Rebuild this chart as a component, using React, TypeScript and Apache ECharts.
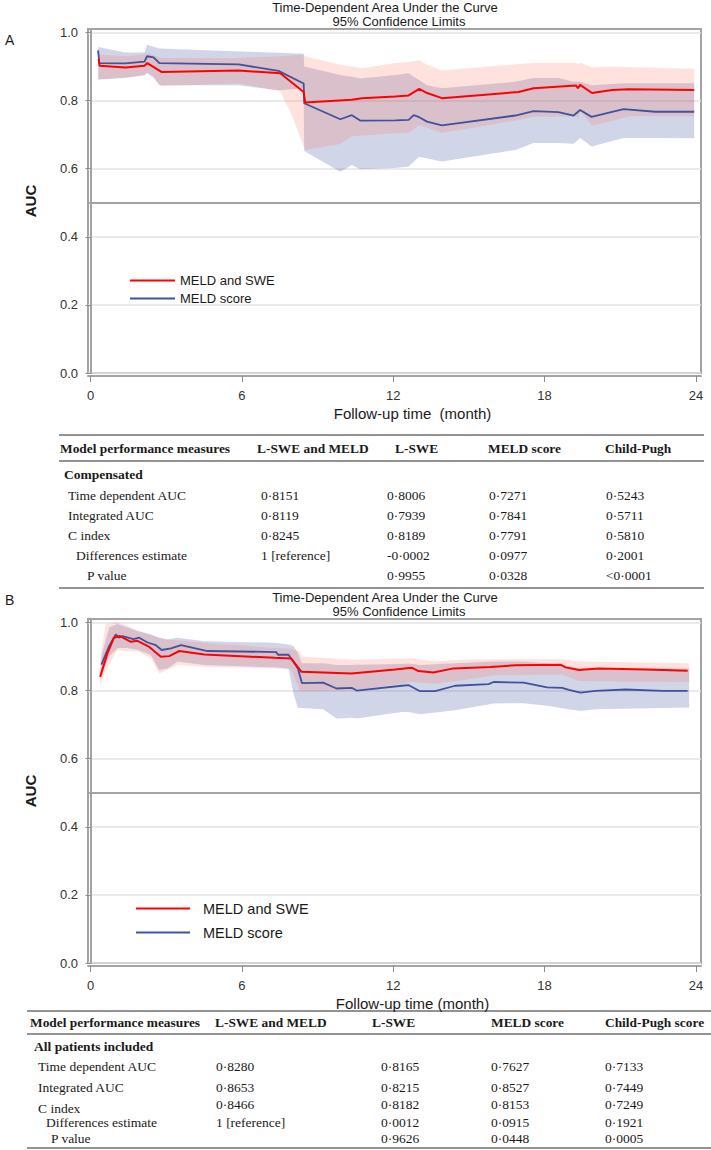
import React, { useEffect, useRef } from 'react';
import * as echarts from 'echarts';

// ---------------- Panel A (Compensated) ----------------
const aRedT = [0.32, 0.36, 1.38, 2.14, 2.25, 2.81, 5.87, 7.52, 8.45, 8.51, 10.36, 10.76, 12.08, 12.61, 13.03, 13.34, 13.93, 16.97, 17.56, 19.25, 19.32, 19.41, 19.88, 20.67, 21.33, 23.93];
const aRedAuc = [0.922, 0.902, 0.897, 0.902, 0.910, 0.884, 0.888, 0.880, 0.825, 0.794, 0.802, 0.807, 0.812, 0.815, 0.834, 0.822, 0.807, 0.825, 0.836, 0.844, 0.836, 0.846, 0.822, 0.831, 0.833, 0.831];

const aBlueT = [0.30, 0.35, 1.38, 2.14, 2.24, 2.50, 2.73, 5.87, 7.45, 8.45, 8.47, 9.90, 10.36, 10.69, 12.08, 12.61, 12.81, 13.03, 13.34, 13.93, 16.84, 17.56, 18.55, 19.15, 19.41, 19.86, 21.13, 22.39, 23.93];
const aBlueAuc = [0.947, 0.910, 0.909, 0.914, 0.930, 0.927, 0.910, 0.906, 0.887, 0.850, 0.792, 0.745, 0.757, 0.741, 0.742, 0.743, 0.757, 0.751, 0.738, 0.727, 0.756, 0.769, 0.766, 0.756, 0.772, 0.752, 0.775, 0.767, 0.767];

const aRedBandT = [0.32, 1.38, 2.14, 2.25, 2.81, 5.87, 7.52, 8.0, 8.45, 8.51, 9.9, 10.36, 10.76, 12.08, 12.61, 13.03, 13.34, 13.93, 16.97, 17.56, 19.25, 19.32, 19.41, 19.88, 20.67, 21.33, 23.93];
const aRedLo = [0.862, 0.868, 0.873, 0.882, 0.842, 0.851, 0.827, 0.753, 0.665, 0.655, 0.672, 0.695, 0.697, 0.704, 0.705, 0.728, 0.72, 0.705, 0.743, 0.753, 0.753, 0.745, 0.77, 0.727, 0.74, 0.754, 0.754];
const aRedHi = [0.935, 0.93, 0.935, 0.94, 0.925, 0.925, 0.93, 0.932, 0.935, 0.93, 0.905, 0.90, 0.895, 0.91, 0.913, 0.918, 0.905, 0.888, 0.907, 0.91, 0.91, 0.905, 0.912, 0.897, 0.90, 0.898, 0.893];

const aBlueBandT = [0.30, 1.38, 2.14, 2.24, 2.50, 2.73, 5.87, 7.45, 8.45, 8.47, 9.90, 10.36, 10.69, 12.08, 12.61, 12.81, 13.03, 13.34, 13.93, 16.84, 17.56, 18.55, 19.15, 19.41, 19.86, 21.13, 22.39, 23.93];
const aBlueLo = [0.862, 0.866, 0.875, 0.88, 0.87, 0.845, 0.845, 0.83, 0.835, 0.652, 0.591, 0.611, 0.598, 0.602, 0.606, 0.62, 0.635, 0.63, 0.621, 0.655, 0.675, 0.675, 0.673, 0.69, 0.665, 0.69, 0.69, 0.689];
const aBlueHi = [0.957, 0.941, 0.941, 0.964, 0.958, 0.953, 0.944, 0.94, 0.937, 0.90, 0.875, 0.87, 0.865, 0.875, 0.88, 0.87, 0.86, 0.845, 0.836, 0.855, 0.866, 0.866, 0.855, 0.855, 0.845, 0.851, 0.851, 0.851];

// ---------------- Panel B (All patients) ----------------
const bRedT = [0.38, 0.67, 0.93, 1.07, 1.17, 1.60, 1.86, 2.33, 2.79, 3.12, 3.52, 4.51, 7.30, 7.96, 8.36, 10.35, 12.07, 12.73, 13.00, 13.59, 14.39, 15.84, 16.84, 18.63, 18.83, 19.36, 20.15, 22.00, 23.67];
const bRedAuc = [0.840, 0.909, 0.955, 0.958, 0.960, 0.943, 0.946, 0.928, 0.899, 0.901, 0.916, 0.906, 0.896, 0.894, 0.855, 0.850, 0.862, 0.867, 0.857, 0.853, 0.865, 0.869, 0.874, 0.876, 0.868, 0.860, 0.865, 0.862, 0.858];

const bBlueT = [0.43, 0.74, 1.00, 1.13, 1.27, 1.70, 1.93, 2.26, 2.59, 2.82, 3.19, 3.59, 4.64, 7.36, 7.43, 7.85, 8.22, 8.38, 9.22, 9.75, 10.35, 10.55, 12.34, 12.60, 13.06, 13.66, 14.45, 15.78, 15.98, 17.17, 18.10, 18.70, 18.96, 19.42, 20.02, 21.21, 22.67, 23.67];
const bBlueAuc = [0.876, 0.931, 0.965, 0.955, 0.960, 0.951, 0.955, 0.941, 0.933, 0.919, 0.924, 0.933, 0.916, 0.913, 0.905, 0.905, 0.865, 0.822, 0.823, 0.806, 0.808, 0.800, 0.814, 0.816, 0.798, 0.798, 0.814, 0.819, 0.825, 0.823, 0.809, 0.808, 0.802, 0.794, 0.799, 0.803, 0.799, 0.799];

const bRedBandT = [0.38, 0.60, 1.07, 1.46, 1.86, 2.39, 2.72, 3.05, 3.45, 4.51, 7.30, 7.96, 8.29, 8.38, 10.35, 12.47, 12.73, 13.66, 14.72, 16.04, 18.70, 19.36, 21.34, 23.73];
const bRedLo = [0.813, 0.86, 0.918, 0.915, 0.915, 0.895, 0.85, 0.86, 0.875, 0.87, 0.865, 0.862, 0.80, 0.797, 0.80, 0.822, 0.825, 0.82, 0.83, 0.845, 0.847, 0.828, 0.826, 0.825];
const bRedHi = [0.885, 0.995, 1.0, 0.99, 0.976, 0.962, 0.955, 0.95, 0.947, 0.94, 0.925, 0.922, 0.915, 0.90, 0.89, 0.894, 0.895, 0.885, 0.89, 0.892, 0.892, 0.885, 0.883, 0.88];

const bBlueBandT = [0.43, 0.74, 1.07, 1.46, 1.86, 2.39, 2.72, 3.05, 3.45, 4.51, 7.30, 7.85, 8.05, 8.22, 8.38, 9.22, 9.75, 10.35, 10.55, 12.34, 12.60, 13.06, 14.45, 15.98, 17.17, 18.10, 18.96, 19.42, 20.02, 23.73];
const bBlueLo = [0.84, 0.90, 0.925, 0.925, 0.92, 0.905, 0.86, 0.865, 0.885, 0.875, 0.868, 0.865, 0.79, 0.749, 0.749, 0.745, 0.718, 0.72, 0.718, 0.737, 0.737, 0.73, 0.742, 0.762, 0.763, 0.755, 0.745, 0.74, 0.745, 0.75];
const bBlueHi = [0.90, 0.985, 0.995, 0.985, 0.975, 0.965, 0.955, 0.95, 0.955, 0.945, 0.94, 0.935, 0.93, 0.91, 0.88, 0.88, 0.875, 0.875, 0.876, 0.878, 0.879, 0.875, 0.88, 0.885, 0.885, 0.88, 0.872, 0.865, 0.865, 0.865];

// ---------------- Axes / labels ----------------
const X_TICKS = [0, 6, 12, 18, 24];
const Y_TICKS = [0, 0.2, 0.4, 0.6, 0.8, 1.0];
const SERIES_NAMES = ['MELD and SWE', 'MELD score'];
const PLOT_TITLE = ['Time-Dependent Area Under the Curve', '95% Confidence Limits'];
const X_NAMES = ['Follow-up time  (month)', 'Follow-up time (month)'];
const PANEL_LABELS = ['A', 'B'];

// ---------------- Tables ----------------
const tableAHeader = ['Model performance measures', 'L-SWE and MELD', 'L-SWE', 'MELD score', 'Child-Pugh'];
const tableAGroup = 'Compensated';
const tableARows = [
  ['Time dependent AUC', '0·8151', '0·8006', '0·7271', '0·5243'],
  ['Integrated AUC', '0·8119', '0·7939', '0·7841', '0·5711'],
  ['C index', '0·8245', '0·8189', '0·7791', '0·5810'],
  ['Differences estimate', '1 [reference]', '-0·0002', '0·0977', '0·2001'],
  ['P value', '', '0·9955', '0·0328', '<0·0001'],
];
const tableBHeader = ['Model performance measures', 'L-SWE and MELD', 'L-SWE', 'MELD score', 'Child-Pugh score'];
const tableBGroup = 'All patients included';
const tableBRows = [
  ['Time dependent AUC', '0·8280', '0·8165', '0·7627', '0·7133'],
  ['Integrated AUC', '0·8653', '0·8215', '0·8527', '0·7449'],
  ['C index', '0·8466', '0·8182', '0·8153', '0·7249'],
  ['Differences estimate', '1 [reference]', '0·0012', '0·0915', '0·1921'],
  ['P value', '', '0·9626', '0·0448', '0·0005'],
];

const SANS = "'Liberation Sans', Arial, sans-serif";
const SERIF = "'Liberation Serif', 'Times New Roman', serif";
const RED = '#ff0000';
const BLUE = '#41529c';

const pairs = (t: number[], v: number[]) => t.map((x, i) => [x, v[i]]);
const band = (t: number[], lo: number[], hi: number[]) => t.map((x, i) => [x, lo[i], hi[i]]);

function bandSeries(data: number[][], fill: string, idx: number) {
  return {
    type: 'custom',
    xAxisIndex: idx,
    yAxisIndex: idx,
    silent: true,
    z: 1,
    data,
    encode: { x: 0, y: [1, 2] },
    renderItem: (params: any, api: any) => {
      if (params.dataIndex !== 0) return null;
      const up = data.map((d) => api.coord([d[0], d[2]]));
      const lo = data.map((d) => api.coord([d[0], d[1]])).reverse();
      return { type: 'polygon', shape: { points: up.concat(lo) }, style: { fill } };
    },
  };
}

function lineSeries(name: string, data: number[][], color: string, width: number, idx: number, ref: boolean) {
  const s: any = {
    type: 'line',
    name,
    data,
    xAxisIndex: idx,
    yAxisIndex: idx,
    symbol: 'none',
    showSymbol: false,
    z: 3,
    lineStyle: { color, width },
    itemStyle: { color },
  };
  if (ref) {
    s.markLine = {
      silent: true,
      symbol: ['none', 'none'],
      label: { show: false },
      lineStyle: { color: '#a3a3a3', width: 2, type: 'solid' },
      data: [{ yAxis: 0.5 }],
    };
  }
  return s;
}

function txt(text: string, x: number, y: number, font: string, align = 'left', fill = '#1a1a1a') {
  return {
    type: 'text',
    x,
    y,
    silent: true,
    style: { text, font, fill, align, textAlign: align, verticalAlign: 'middle', textVerticalAlign: 'middle' },
  };
}

function rule(x1: number, x2: number, y: number) {
  return { type: 'line', silent: true, shape: { x1, y1: y, x2, y2: y }, style: { stroke: '#6e6e6e', lineWidth: 1.6 } };
}

function buildTable(
  header: string[], group: string, rows: string[][],
  L: { hx: number[]; vx: number[]; rx: number[]; rule: [number, number]; ys: number[]; rows: number[]; cIndexDy: number }
) {
  const els: any[] = [];
  const [top, hy, hr, gy, bottom] = L.ys;
  els.push(rule(L.rule[0], L.rule[1], top));
  els.push(rule(L.rule[0], L.rule[1], hr));
  els.push(rule(L.rule[0], L.rule[1], bottom));
  header.forEach((h, i) => els.push(txt(h, L.hx[i], hy, `bold 13.4px ${SERIF}`)));
  els.push(txt(group, L.rx[0] - 4, gy, `bold 13.5px ${SERIF}`));
  rows.forEach((r, ri) => {
    const y = L.rows[ri];
    els.push(txt(r[0], L.rx[ri], y + (ri === 2 ? L.cIndexDy : 0), `13.5px ${SERIF}`));
    for (let c = 1; c < r.length; c++) {
      if (r[c]) els.push(txt(r[c], L.vx[c - 1], y, `13.5px ${SERIF}`));
    }
  });
  return els;
}

function buildOption() {
  const grids = [
    { left: 88, top: 29, width: 613, height: 344 },
    { left: 88, top: 619, width: 613, height: 344 },
  ];

  const graphics: any[] = [];
  graphics.push(txt(PANEL_LABELS[0], 5, 40, `14px ${SANS}`));
  graphics.push(txt(PLOT_TITLE[0], 385, 7, `13px ${SANS}`, 'center'));
  graphics.push(txt(PLOT_TITLE[1], 399, 21, `13px ${SANS}`, 'center'));
  graphics.push(txt(PANEL_LABELS[1], 5, 600, `14px ${SANS}`));
  graphics.push(txt(PLOT_TITLE[0], 385, 597, `13px ${SANS}`, 'center'));
  graphics.push(txt(PLOT_TITLE[1], 399, 611, `13px ${SANS}`, 'center'));

  graphics.push(
    ...buildTable(tableAHeader, tableAGroup, tableARows, {
      hx: [60, 257, 395, 488, 605],
      vx: [261, 387, 489, 606],
      rx: [68, 68, 68, 76, 87],
      rule: [59, 704],
      ys: [435, 448, 461, 474, 588],
      rows: [495, 515, 535, 555, 575],
      cIndexDy: 0,
    })
  );
  graphics.push(
    ...buildTable(tableBHeader, tableBGroup, tableBRows, {
      hx: [30, 215, 372, 491, 605],
      vx: [216, 381, 491, 605],
      rx: [38, 38, 38, 46, 51],
      rule: [27, 711],
      ys: [1011, 1022, 1034, 1046, 1148],
      rows: [1066, 1087, 1104, 1122, 1138],
      cIndexDy: 4,
    })
  );

  const xAxes = [0, 1].map((i) => ({
    gridIndex: i,
    type: 'value',
    min: -0.1,
    max: 24.2,
    offset: 3,
    axisLine: { show: true, onZero: false, lineStyle: { color: '#a3a3a3', width: 2 } },
    axisTick: { show: true, length: 6, customValues: X_TICKS, lineStyle: { color: '#8a8a8a', width: 1 } },
    axisLabel: { customValues: X_TICKS, margin: 13, fontSize: 13, color: '#333', fontFamily: SANS },
    splitLine: { show: false },
    name: X_NAMES[i],
    nameLocation: 'middle',
    nameGap: 30,
    nameTextStyle: { fontSize: 15, color: '#1a1a1a', fontFamily: SANS, padding: [0, 0, 0, 36] },
  }));

  const yAxes = [0, 1].map((i) => ({
    gridIndex: i,
    type: 'value',
    min: 0,
    max: 1.01,
    axisLine: { show: true, lineStyle: { color: '#a3a3a3', width: 2 } },
    axisTick: { show: true, length: 5, customValues: Y_TICKS, lineStyle: { color: '#8a8a8a', width: 1 } },
    axisLabel: {
      customValues: Y_TICKS,
      formatter: (v: number) => v.toFixed(1),
      margin: 10,
      fontSize: 13,
      color: '#333',
      fontFamily: SANS,
    },
    splitLine: { show: true, lineStyle: { color: '#e3e3e3', width: 1.5 } },
    name: 'AUC',
    nameLocation: 'middle',
    nameGap: 50,
    nameTextStyle: { fontSize: 15, fontWeight: 'bold', color: '#1a1a1a', fontFamily: SANS },
  }));

  const series: any[] = [
    bandSeries(band(aBlueBandT, aBlueLo, aBlueHi), 'rgba(60,80,160,0.24)', 0),
    bandSeries(band(aRedBandT, aRedLo, aRedHi), 'rgba(255,110,90,0.2)', 0),
    lineSeries(SERIES_NAMES[1], pairs(aBlueT, aBlueAuc), BLUE, 1.8, 0, true),
    lineSeries(SERIES_NAMES[0], pairs(aRedT, aRedAuc), RED, 2, 0, false),
    bandSeries(band(bBlueBandT, bBlueLo, bBlueHi), 'rgba(60,80,160,0.24)', 1),
    bandSeries(band(bRedBandT, bRedLo, bRedHi), 'rgba(255,110,90,0.2)', 1),
    lineSeries(SERIES_NAMES[1], pairs(bBlueT, bBlueAuc), BLUE, 1.8, 1, true),
    lineSeries(SERIES_NAMES[0], pairs(bRedT, bRedAuc), RED, 2, 1, false),
  ];

  return {
    animation: false,
    backgroundColor: '#ffffff',
    grid: grids.map((g) => ({ ...g, show: true, borderColor: '#a3a3a3', borderWidth: 2, backgroundColor: 'transparent' })),
    xAxis: xAxes,
    yAxis: yAxes,
    legend: [
      {
        left: 130, top: 274, orient: 'vertical', padding: 0, itemWidth: 45, itemHeight: 2, itemGap: 5,
        icon: 'rect', selectedMode: false, data: SERIES_NAMES,
        textStyle: { fontSize: 13, color: '#1a1a1a', fontFamily: SANS },
      },
      {
        left: 136, top: 901, orient: 'vertical', padding: 0, itemWidth: 54, itemHeight: 2, itemGap: 9,
        icon: 'rect', selectedMode: false, data: SERIES_NAMES,
        textStyle: { fontSize: 14.5, color: '#1a1a1a', fontFamily: SANS, padding: [0, 0, 0, 8] },
      },
    ],
    graphic: { elements: graphics },
    series,
  };
}

export default function App() {
  const ref = useRef<HTMLDivElement>(null);
  useEffect(() => {
    if (!ref.current) return;
    const chart = echarts.init(ref.current, null, { renderer: 'svg' });
    chart.setOption(buildOption() as any);
    return () => chart.dispose();
  }, []);
  return (
    <div style={{ position: 'absolute', left: 0, top: 0, width: 711, height: 1150, background: '#fff' }}>
      <div ref={ref} style={{ width: 711, height: 1150 }} />
    </div>
  );
}
